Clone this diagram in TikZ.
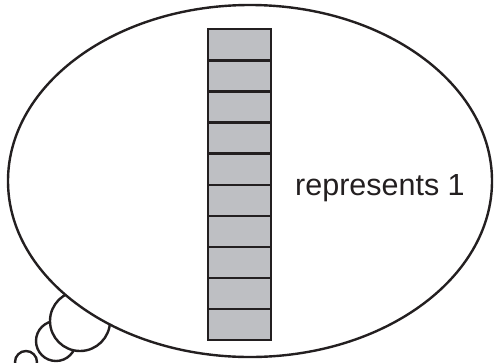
\documentclass[tikz,border=0pt]{standalone}
\usepackage{fontspec}
\setmainfont{Liberation Sans}
\definecolor{ink}{HTML}{231F20}
\definecolor{cellgray}{HTML}{BEBFC3}
\begin{document}
\begin{tikzpicture}[x=1pt,y=-1pt,
  bub/.style={draw=ink,line width=2.4pt,fill=white},
  cell/.style={draw=ink,line width=2.4pt,fill=cellgray,minimum width=63pt,minimum height=31.1pt,inner sep=0pt,anchor=north west},
  lbl/.style={text=ink,font=\fontsize{30.5}{36}\selectfont,inner sep=0pt,anchor=base west}]
\useasboundingbox (0,0) rectangle (494,362);
\path[bub] (26,362) circle (11);
\path[bub] (56,341) circle (20);
\path[bub] (80,321) circle (30);
\path[bub] (250,181) ellipse (242 and 176);
\foreach \i in {0,...,9} {
  \node[cell] (c\i) at (207,{28+31.1*\i}) {};
}
\node[lbl] (t) at (295,195) {represents 1};
\end{tikzpicture}
\end{document}
